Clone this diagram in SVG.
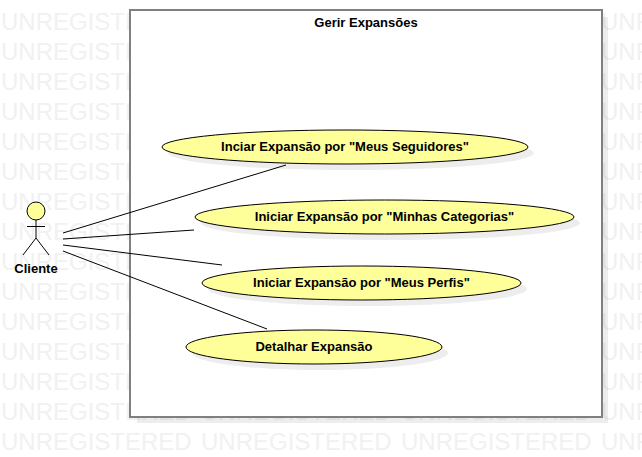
<svg xmlns="http://www.w3.org/2000/svg" width="642" height="457" viewBox="0 0 642 457">
<style>
.wm{font:24px "Liberation Sans",Arial,sans-serif;fill:#f1f1f1;word-spacing:2.65px;white-space:pre}
.t{font:bold 13px "Liberation Sans",Arial,sans-serif;fill:#000;text-anchor:middle}
.uc{fill:#ffff99;stroke:#000;stroke-width:1}
.sh{fill:#000;fill-opacity:.07;stroke:none}
.c{fill:none;stroke:#000;stroke-width:1}
</style>
<rect width="642" height="457" fill="#fff"/>
<g id="watermark">
<text class="wm" x="1" y="30">UNREGISTERED UNREGISTERED UNREGISTERED UNREGISTERED</text>
<text class="wm" x="1" y="60">UNREGISTERED UNREGISTERED UNREGISTERED UNREGISTERED</text>
<text class="wm" x="1" y="90">UNREGISTERED UNREGISTERED UNREGISTERED UNREGISTERED</text>
<text class="wm" x="1" y="120">UNREGISTERED UNREGISTERED UNREGISTERED UNREGISTERED</text>
<text class="wm" x="1" y="150">UNREGISTERED UNREGISTERED UNREGISTERED UNREGISTERED</text>
<text class="wm" x="1" y="180">UNREGISTERED UNREGISTERED UNREGISTERED UNREGISTERED</text>
<text class="wm" x="1" y="210">UNREGISTERED UNREGISTERED UNREGISTERED UNREGISTERED</text>
<text class="wm" x="1" y="240">UNREGISTERED UNREGISTERED UNREGISTERED UNREGISTERED</text>
<text class="wm" x="1" y="270">UNREGISTERED UNREGISTERED UNREGISTERED UNREGISTERED</text>
<text class="wm" x="1" y="300">UNREGISTERED UNREGISTERED UNREGISTERED UNREGISTERED</text>
<text class="wm" x="1" y="330">UNREGISTERED UNREGISTERED UNREGISTERED UNREGISTERED</text>
<text class="wm" x="1" y="360">UNREGISTERED UNREGISTERED UNREGISTERED UNREGISTERED</text>
<text class="wm" x="1" y="390">UNREGISTERED UNREGISTERED UNREGISTERED UNREGISTERED</text>
<text class="wm" x="1" y="420">UNREGISTERED UNREGISTERED UNREGISTERED UNREGISTERED</text>
<text class="wm" x="1" y="450">UNREGISTERED UNREGISTERED UNREGISTERED UNREGISTERED</text>
</g>
<g id="system">
<rect class="sh" x="137" y="17" width="471" height="406"/>
<rect x="130" y="10" width="472" height="407" fill="#fff" stroke="#808080" stroke-width="2"/>
<text class="t" x="366" y="27">Gerir Expansões</text>
</g>
<g id="connectors">
<line class="c" x1="63" y1="233" x2="286" y2="165"/>
<line class="c" x1="63" y1="239" x2="194" y2="230"/>
<line class="c" x1="63" y1="245" x2="222" y2="265"/>
<line class="c" x1="63" y1="251" x2="267" y2="329"/>
</g>
<g id="actor-cliente">
<circle cx="36" cy="211" r="9" fill="#ffff99" stroke="#000"/>
<path class="c" d="M36 220V238M27 226.500H45M36 238L23 255M36 238L49 255"/>
<text class="t" x="36" y="273">Cliente</text>
</g>
<g id="uc-seguidores">
<ellipse class="sh" cx="351" cy="153" rx="183" ry="17"/>
<ellipse class="uc" cx="345" cy="147" rx="183" ry="17"/>
<text class="t" x="345" y="151">Inciar Expansão por "Meus Seguidores"</text>
</g>
<g id="uc-categorias">
<ellipse class="sh" cx="390.500" cy="223" rx="189.500" ry="17"/>
<ellipse class="uc" cx="384.500" cy="217" rx="189.500" ry="17"/>
<text class="t" x="384.500" y="221">Iniciar Expansão por "Minhas Categorias"</text>
</g>
<g id="uc-perfis">
<ellipse class="sh" cx="367.500" cy="289" rx="159.500" ry="17"/>
<ellipse class="uc" cx="361.500" cy="283" rx="159.500" ry="17"/>
<text class="t" x="361.500" y="287">Iniciar Expansão por "Meus Perfis"</text>
</g>
<g id="uc-detalhar">
<ellipse class="sh" cx="320" cy="353" rx="128" ry="17"/>
<ellipse class="uc" cx="314" cy="347" rx="128" ry="17"/>
<text class="t" x="314" y="351">Detalhar Expansão</text>
</g>
</svg>
